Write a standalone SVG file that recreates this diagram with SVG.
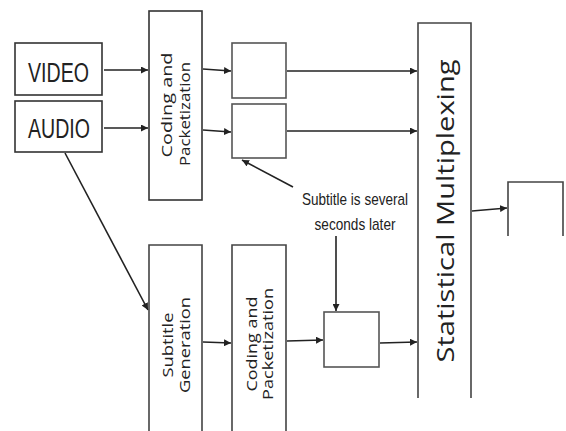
<svg xmlns="http://www.w3.org/2000/svg" width="566" height="431" viewBox="0 0 566 431">
<defs>
<marker id="ah" viewBox="0 0 10 10" refX="10" refY="5" markerWidth="7" markerHeight="7" markerUnits="userSpaceOnUse" orient="auto">
<path d="M0,0 L10,5 L0,10 z" fill="#222"/>
</marker>
<style>
.box{fill:#fff;stroke:#333;stroke-width:1.6}
.open{fill:none;stroke:#444;stroke-width:1.6}
.gbox{fill:#fff;stroke:#555;stroke-width:1.6}
.con{fill:none;stroke:#222;stroke-width:1.6;marker-end:url(#ah)}
.big{font-family:"Liberation Sans",Arial,sans-serif;font-size:27px;fill:#222}
.rot{font-family:"Open Sans","DejaVu Sans",sans-serif;font-size:15px;fill:#222;text-anchor:middle}
.mux{font-family:"Open Sans","DejaVu Sans",sans-serif;font-size:23px;fill:#222;text-anchor:middle}
.note{font-family:"Liberation Sans",Arial,sans-serif;font-size:17px;fill:#222;text-anchor:middle}
</style>
</defs>
<rect width="566" height="431" fill="#fff"/>
<g id="connectors">
<line class="con" x1="104" y1="70" x2="148" y2="70"/>
<line class="con" x1="104" y1="128" x2="148" y2="128"/>
<line class="con" x1="203" y1="69" x2="231" y2="71"/>
<line class="con" x1="203" y1="130" x2="231" y2="132"/>
<line class="con" x1="287" y1="71" x2="417" y2="71"/>
<line class="con" x1="287" y1="131" x2="417" y2="131"/>
<line class="con" x1="65" y1="153" x2="148" y2="310"/>
<line class="con" x1="203" y1="342" x2="231" y2="343"/>
<line class="con" x1="287" y1="341" x2="323" y2="340"/>
<line class="con" x1="380" y1="343" x2="417" y2="342"/>
<line class="con" x1="472" y1="211" x2="507" y2="208"/>
<line class="con" x1="293" y1="187" x2="242" y2="160"/>
<line class="con" x1="336" y1="236" x2="336" y2="311"/>
</g>
<g id="video">
<rect class="box" x="15" y="43" width="87" height="52"/>
<text class="big" x="28" y="82" textLength="61" lengthAdjust="spacingAndGlyphs">VIDEO</text>
</g>
<g id="audio">
<rect class="box" x="15" y="101" width="87" height="51"/>
<text class="big" x="28" y="138" textLength="62" lengthAdjust="spacingAndGlyphs">AUDIO</text>
</g>
<g id="coding1">
<rect class="box" x="149" y="11" width="53" height="189"/>
<text class="rot" transform="translate(172,105) rotate(-90)" textLength="105" lengthAdjust="spacingAndGlyphs">Coding and</text>
<text class="rot" transform="translate(190,114) rotate(-90)" textLength="104" lengthAdjust="spacingAndGlyphs">Packetization</text>
</g>
<g id="buf1">
<rect class="gbox" x="232" y="43" width="54" height="55"/>
</g>
<g id="buf2">
<rect class="gbox" x="232" y="104" width="54" height="54"/>
</g>
<g id="note">
<text class="note" x="355" y="205" textLength="106" lengthAdjust="spacingAndGlyphs">Subtitle is several</text>
<text class="note" x="355" y="230" textLength="81" lengthAdjust="spacingAndGlyphs">seconds later</text>
</g>
<g id="subgen">
<path class="open" d="M149,432 V245 H202 V432"/>
<text class="rot" transform="translate(173,345) rotate(-90)" textLength="65" lengthAdjust="spacingAndGlyphs">Subtitle</text>
<text class="rot" transform="translate(190,345) rotate(-90)" textLength="96" lengthAdjust="spacingAndGlyphs">Generation</text>
</g>
<g id="coding2">
<path class="open" d="M232,432 V245 H286 V432"/>
<text class="rot" transform="translate(257,344) rotate(-90)" textLength="95" lengthAdjust="spacingAndGlyphs">Coding and</text>
<text class="rot" transform="translate(273,344) rotate(-90)" textLength="112" lengthAdjust="spacingAndGlyphs">Packetization</text>
</g>
<g id="buf3">
<rect class="gbox" x="324" y="312" width="55" height="55"/>
</g>
<g id="mux">
<path class="open" d="M418,398 V23 H471 V398"/>
<text class="mux" transform="translate(454,211) rotate(-90)" textLength="303" lengthAdjust="spacingAndGlyphs">Statistical Multiplexing</text>
</g>
<g id="output">
<path class="open" d="M508,236 V182 H563 V236"/>
</g>
</svg>
